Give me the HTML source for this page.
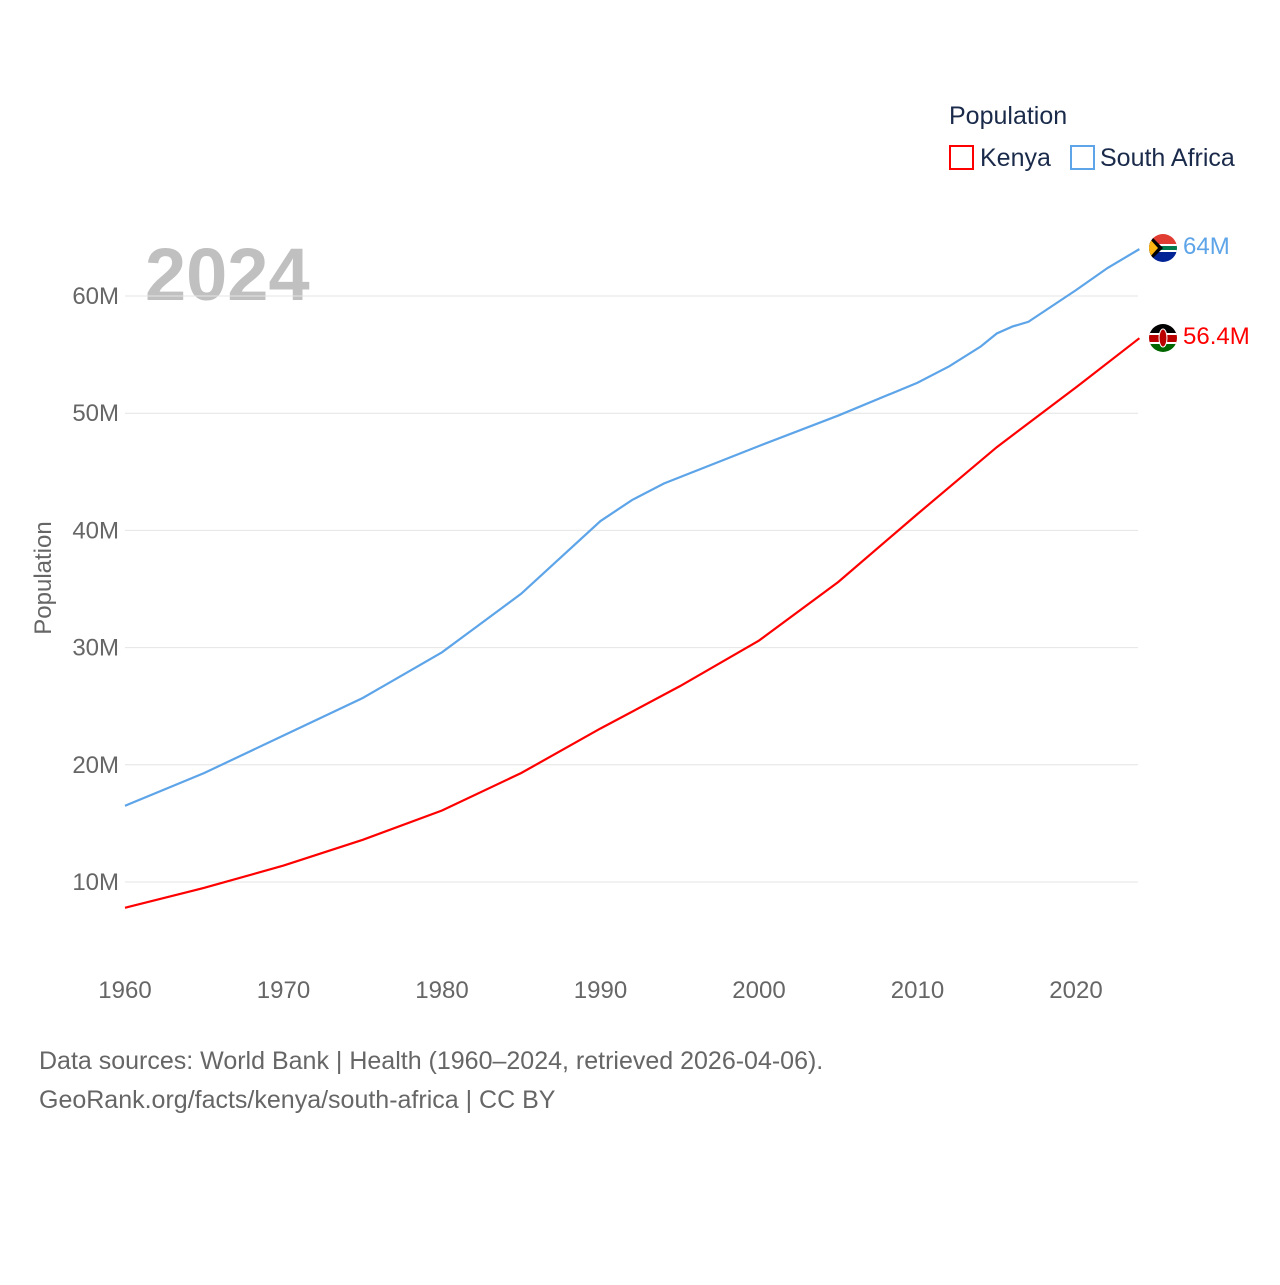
<!DOCTYPE html>
<html><head><meta charset="utf-8"><style>
body{margin:0;background:#fff;font-family:"Liberation Sans",sans-serif}
svg text{font-family:"Liberation Sans",sans-serif}
</style></head><body>
<svg id="c" width="1280" height="1280">
<text x="949" y="124" font-size="25" fill="#1a2a4a">Population</text>
<rect x="950" y="146" width="23" height="23" fill="none" stroke="#ff0000" stroke-width="2"/>
<text x="980" y="166" font-size="25" fill="#1a2a4a">Kenya</text>
<rect x="1071" y="146" width="23" height="23" fill="none" stroke="#5da4e8" stroke-width="2"/>
<text x="1100" y="166" font-size="25" fill="#1a2a4a">South Africa</text>
<text x="145" y="300" font-size="74" font-weight="bold" fill="#c0c0c0">2024</text>
<text transform="translate(51,578) rotate(-90)" text-anchor="middle" font-size="24" fill="#666">Population</text>
<g id="grid"></g><g id="xt"></g><g id="lines"></g>
<g>
<clipPath id="cp1"><circle cx="1163" cy="248" r="14"/></clipPath>
<g clip-path="url(#cp1)"><rect x="1149" y="234" width="28" height="14" fill="#e03c31"/><rect x="1149" y="248" width="28" height="14" fill="#002395"/><rect x="1149" y="244" width="28" height="8" fill="#fff"/><rect x="1149" y="246" width="28" height="4" fill="#007a4d"/><polygon points="1149,234 1163,248 1149,262" fill="#000"/><polygon points="1149,238 1158,248 1149,258" fill="#ffb612"/></g></g>
<g>
<clipPath id="cp2"><circle cx="1163" cy="338" r="14"/></clipPath>
<g clip-path="url(#cp2)"><rect x="1149" y="324" width="28" height="10" fill="#000"/><rect x="1149" y="334" width="28" height="9" fill="#bb0000"/><rect x="1149" y="343" width="28" height="10" fill="#006600"/><rect x="1149" y="333" width="28" height="2" fill="#fff"/><rect x="1149" y="342" width="28" height="2" fill="#fff"/><ellipse cx="1163" cy="338" rx="4" ry="9" fill="#bb0000" stroke="#fff"/></g></g>
<text x="1183" y="254" font-size="24" fill="#5da4e8">64M</text>
<text x="1183" y="344" font-size="24" fill="#ff0000">56.4M</text>
<text x="39" y="1069" font-size="25" fill="#666">Data sources: World Bank | Health (1960–2024, retrieved 2026-04-06).</text>
<text x="39" y="1108" font-size="25" fill="#666">GeoRank.org/facts/kenya/south-africa | CC BY</text>
</svg>
<script>
const yTicks=[10,20,30,40,50,60];
const yTickLabels=["10M","20M","30M","40M","50M","60M"];
const xTicks=[1960,1970,1980,1990,2000,2010,2020];
const saYears=[1960,1965,1970,1975,1980,1982,1985,1990,1992,1994,2000,2005,2010,2012,2014,2015,2016,2017,2020,2022,2024];
const saValues=[16.5,19.3,22.5,25.7,29.6,31.6,34.6,40.8,42.6,44.0,47.2,49.8,52.6,54.0,55.7,56.8,57.4,57.8,60.5,62.4,64.0];
const keYears=[1960,1965,1970,1975,1980,1985,1990,1995,2000,2005,2010,2015,2020,2024];
const keValues=[7.8,9.5,11.4,13.6,16.1,19.3,23.1,26.7,30.6,35.6,41.4,47.1,52.2,56.4];
const X=y=>125+(y-1960)*15.85, Y=v=>999.2-v*11.72;
const NS="http://www.w3.org/2000/svg";
const g=document.getElementById('grid'),xt=document.getElementById('xt'),L=document.getElementById('lines');
yTicks.forEach((t,i)=>{
 const l=document.createElementNS(NS,'line');
 l.setAttribute('x1',125);l.setAttribute('x2',1138);l.setAttribute('y1',Y(t));l.setAttribute('y2',Y(t));
 l.setAttribute('stroke','#e4e4e4');l.setAttribute('stroke-width',1);
 
 
 g.appendChild(l);
 const tx=document.createElementNS(NS,'text');
 tx.setAttribute('x',119);tx.setAttribute('y',Y(t)+8);tx.setAttribute('text-anchor','end');
 tx.setAttribute('font-size',24);tx.setAttribute('fill','#666');tx.textContent=yTickLabels[i];
 
 
 g.appendChild(tx);
});
xTicks.forEach(t=>{
 const tx=document.createElementNS(NS,'text');
 tx.setAttribute('x',X(t));tx.setAttribute('y',998);tx.setAttribute('text-anchor','middle');
 tx.setAttribute('font-size',24);tx.setAttribute('fill','#666');tx.textContent=t;
 
 
 xt.appendChild(tx);
});
function line(ys,vs,c,name){
 const p=document.createElementNS(NS,'polyline');
 p.setAttribute('points',ys.map((y,i)=>X(y)+','+Y(vs[i])).join(' '));
 p.setAttribute('fill','none');p.setAttribute('stroke',c);p.setAttribute('stroke-width',2.2);
 
 
 L.appendChild(p);
}
line(saYears,saValues,'#5da4e8','south-africa-line');
line(keYears,keValues,'#ff0000','kenya-line');
</script>
</body></html>
